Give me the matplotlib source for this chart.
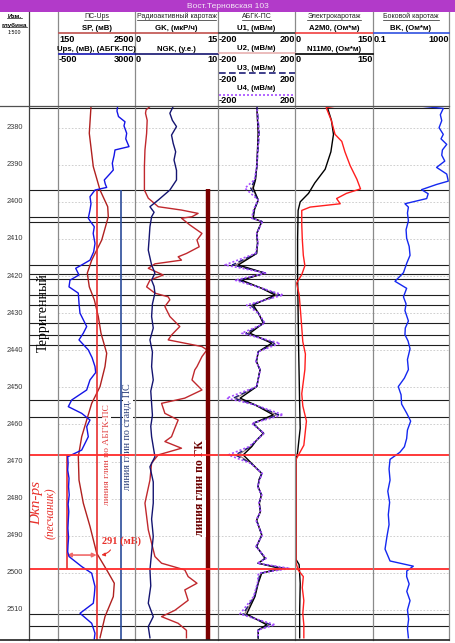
import numpy as np
import matplotlib.pyplot as plt
from matplotlib.lines import Line2D

depth_ticks = [2380, 2390, 2400, 2410, 2420, 2430, 2440, 2450, 2460, 2470, 2480, 2490, 2500, 2510]

# ПС track
sp_depth = [2374.3, 2381.5, 2390.5, 2396.8, 2401.3, 2404.0, 2410.3, 2415.7, 2419.2, 2422.9,
            2426.4, 2430.9, 2435.4, 2440.8, 2444.4, 2449.8, 2454.3, 2458.8, 2463.3, 2468.7,
            2475.0, 2481.2, 2487.5, 2494.7, 2499.2, 2502.8, 2506.4, 2511.8, 2517.5]
sp_val = [1157, 1105, 1227, 1432, 1667, 1685, 1484, 1179, 1044, 1105,
          1258, 1380, 1462, 1636, 1584, 1432, 1179, 1026, 873, 770,
          791, 922, 1127, 1331, 1636, 1868, 1838, 1584, 1432]

ups_depth = [2374.2, 2375.5, 2377.0, 2378.4, 2379.5, 2381.5, 2383.0, 2385.1, 2386.0, 2387.5,
             2389.6, 2391.4, 2392.5, 2394.1, 2395.2, 2396.1, 2396.8, 2398.6, 2400.5, 2402.2,
             2404.4, 2405.5, 2406.7, 2408.5, 2411.2, 2413.5, 2415.7, 2417.0, 2417.9, 2419.7,
             2421.1, 2422.9, 2424.6, 2427.3, 2430.0, 2433.6, 2435.4, 2437.2, 2439.9, 2442.0,
             2444.4, 2446.0, 2448.0, 2450.7, 2453.4, 2455.2, 2457.0, 2458.8, 2460.6, 2463.3,
             2466.9, 2468.7, 2470.5, 2472.3, 2474.5, 2476.8, 2479.0, 2481.5, 2483.5, 2485.8,
             2488.0, 2490.5, 2492.5, 2494.3, 2495.6, 2498.3, 2500.1, 2503.7, 2506.0, 2508.2,
             2510.9, 2513.6, 2516.3, 2517.8]
ups_val = [2213, 2180, 2250, 2545, 2500, 2622, 2580, 2727, 2091, 2050,
           1968, 2014, 1850, 1604, 1650, 1713, 1182, 954, 1000, 954,
           877, 1000, 1150, 1100, 1182, 1120, 954, 577, 304, 454,
           45, 0, 423, 454, 500, 804, 650, 454, 877, 1050,
           1182, 1213, 954, 804, 123, -32, 577, 954, 804, 877,
           577, -59, -40, -59, 0, -20, 10, -40, -10, -32,
           -50, -20, -45, -59, 0, 577, 1032, 1182, 1150, 1104,
           500, 1032, 1182, 1150]

# Радиоактивный каротаж
gk_depth = [2374.3, 2375.2, 2376.1, 2378.0, 2381.5, 2386.0, 2390.5, 2396.8, 2399.0, 2401.3,
            2402.2, 2403.1, 2404.0, 2404.4, 2406.2, 2408.5, 2410.3, 2412.1, 2413.9, 2414.8,
            2415.7, 2416.7, 2417.9, 2419.7, 2421.1, 2422.9, 2424.6, 2425.6, 2426.4, 2428.2,
            2430.9, 2433.6, 2434.5, 2435.9, 2437.2, 2439.0, 2439.9, 2441.7, 2444.4, 2445.3,
            2448.0, 2450.7, 2452.9, 2454.3, 2457.0, 2458.8, 2461.0, 2463.3, 2464.6, 2466.4,
            2468.2, 2470.4, 2475.0, 2481.2, 2488.4, 2495.6, 2497.4, 2499.2, 2501.0, 2502.8,
            2504.6, 2507.4, 2510.1, 2511.8, 2513.6, 2515.5, 2517.5]
gk_val = [2.7, 2.0, 1.9, 2.2, 2.1, 1.8, 1.7, 1.7, 2.4, 4.2,
          8.4, 11.4, 10.3, 8.4, 9.9, 12.1, 11.2, 11.6, 9.3, 7.8,
          8.4, 3.6, 2.4, 5.1, 2.7, 2.1, 3.6, 6.0, 6.3, 5.4,
          6.3, 8.1, 7.5, 6.6, 6.0, 12.1, 13.0, 12.1, 11.2, 10.8,
          10.3, 12.1, 9.0, 4.8, 5.4, 7.8, 7.2, 6.6, 5.4, 8.4,
          4.2, 3.0, 2.7, 1.8, 2.4, 3.6, 4.8, 9.0, 9.6, 11.2,
          9.0, 9.6, 7.2, 4.8, 7.8, 9.3, 9.3]

ngk_depth = [2374.3, 2376.1, 2378.0, 2379.7, 2382.0, 2384.2, 2386.5, 2388.7, 2391.5, 2394.1,
             2396.8, 2399.5, 2401.3, 2402.8, 2404.0, 2406.7, 2410.0, 2413.0, 2417.0, 2419.2,
             2421.1, 2422.8, 2424.6, 2427.5, 2430.9, 2434.0, 2437.2, 2440.5, 2444.4, 2448.0,
             2451.0, 2454.3, 2457.5, 2460.5, 2463.3, 2466.0, 2468.7, 2471.4, 2475.5, 2481.2,
             2485.5, 2490.2, 2494.5, 2499.2, 2503.5, 2508.2, 2511.8, 2514.5, 2517.5]
ngk_val = [4.6, 4.2, 4.5, 5.0, 4.4, 4.6, 4.9, 4.7, 5.0, 5.0,
           4.2, 2.8, 1.8, 2.3, 2.0, 1.8, 1.7, 1.6, 2.0, 2.4,
           2.0, 2.3, 2.4, 2.1, 2.0, 2.2, 1.8, 2.1, 2.0, 2.2,
           1.9, 2.0, 2.1, 1.9, 2.0, 2.2, 2.4, 1.8, 2.2, 2.2,
           2.0, 2.2, 2.0, 1.8, 1.9, 1.6, 2.2, 1.6, 1.8]

# АБГК-ПС
u_depth = [2374.0, 2381.5, 2390.5, 2394.0, 2396.3, 2399.5, 2402.0, 2404.4, 2405.3, 2408.5,
           2411.0, 2413.9, 2417.0, 2419.2, 2421.1, 2423.3, 2425.1, 2427.8, 2430.0, 2432.7,
           2435.4, 2438.1, 2440.4, 2443.0, 2445.3, 2449.8, 2452.9, 2454.7, 2457.4, 2459.7,
           2462.4, 2464.2, 2466.0, 2468.2, 2470.5, 2473.2, 2475.0, 2476.8, 2479.0, 2481.2,
           2483.5, 2485.8, 2489.8, 2492.9, 2496.1, 2497.4, 2498.8, 2500.1, 2502.8, 2506.4,
           2511.1, 2514.0, 2515.4, 2517.6]
u1_val = [1, 9, 1, -5, -17, 9, -10, -17, 27, 1,
          5, 1, -95, 44, -77, 27, 96, -17, 10, 35,
          -34, 79, 9, 0, 18, 1, -85, -8, 87, -17,
          35, 1, -25, -69, -25, 27, 12, 9, 25, 15,
          20, 1, 27, 1, 44, 9, 122, 27, 9, -8,
          -51, 53, 9, 9]
u2_val = [2, 8, 3, -6, -22, 10, -12, -20, 28, 2,
          6, 0, -110, 46, -88, 28, 110, -25, 10, 38,
          -45, 95, 10, -1, 18, 2, -110, -9, 105, -20,
          36, 2, -30, -95, -28, 28, 13, 8, 26, 14,
          21, 0, 28, 0, 46, 8, 140, 22, 8, -10,
          -62, 68, 9, 9]
u3_val = [3, 14, 2, -8, -30, 9, -12, -22, 29, 1,
          7, -2, -125, 47, -95, 29, 120, -30, 10, 40,
          -55, 100, 9, -2, 19, 1, -120, -9, 115, -21,
          38, 1, -33, -110, -28, 29, 14, 7, 27, 13,
          21, -1, 29, -1, 47, 7, 150, 18, 7, -12,
          -70, 75, 9, 9]
u4_val = [1, 12, 1, -10, -60, 9, -15, -25, 30, 1,
          8, -5, -164, 50, -112, 30, 139, -51, 10, 44,
          -77, 122, 9, -3, 20, 1, -155, -10, 139, -25,
          40, 1, -40, -146, -30, 30, 15, 5, 28, 12,
          22, -3, 30, -3, 50, 5, 174, 10, 5, -15,
          -86, 96, 9, 9]

# Электрокаротаж
a2m0_depth = [2373.9, 2374.6, 2378.1, 2381.8, 2383.7, 2386.5, 2390.2, 2393.9, 2396.5, 2397.7,
              2399.1, 2400.5, 2401.4, 2402.3, 2406.1, 2410.0, 2414.4, 2417.2, 2419.6, 2421.9,
              2425.0, 2428.4, 2432.0, 2437.7, 2441.0, 2445.2, 2451.7, 2455.0, 2459.1, 2465.6,
              2468.4, 2469.4, 2480.0, 2490.0, 2497.3, 2499.2, 2501.0, 2504.0, 2507.5, 2511.0,
              2514.0, 2517.5]
a2m0_val = [90, 60, 70, 77, 90, 96, 106, 119, 126, 99,
            80, 87, 29, 13, 13, 14, 16, 19, 13, 3,
            8, 10, 12, 15, 20, 19, 13, 15, 22, 17,
            6, 2, 2, 2, 2, 6, 16, 14, 17, 15,
            17, 17]
n11m0_depth = [2374.4, 2378.0, 2381.8, 2386.5, 2391.2, 2394.9, 2397.7, 2400.0, 2402.3, 2410.0,
               2419.1, 2430.0, 2440.0, 2447.0, 2455.0, 2461.0, 2467.5, 2469.4, 2480.0, 2496.4,
               2497.8, 2502.9, 2510.0, 2517.5]
n11m0_val = [62, 70, 74, 69, 58, 38, 26, 10, 6, 5,
             5, 6, 7, 8, 9, 10, 5, 2, 2, 2,
             8, 10, 9, 9]

# Боковой каротаж
bk_depth = [2374.2, 2374.8, 2376.5, 2378.1, 2380.0, 2381.8, 2383.0, 2384.5, 2386.0, 2387.4,
            2389.0, 2390.7, 2392.5, 2394.4, 2395.3, 2396.7, 2397.8, 2399.1, 2400.5, 2401.4,
            2403.0, 2405.1, 2407.5, 2409.8, 2412.0, 2414.4, 2416.5, 2419.1, 2421.4, 2423.3,
            2425.6, 2427.5, 2429.3, 2432.1, 2434.0, 2435.8, 2437.5, 2439.6, 2442.5, 2445.2,
            2447.5, 2449.8, 2452.0, 2454.5, 2457.0, 2459.1, 2461.5, 2463.8, 2466.0, 2467.5,
            2469.4, 2472.0, 2475.0, 2478.0, 2481.0, 2484.3, 2487.0, 2490.0, 2493.6, 2496.8,
            2498.2, 2499.5, 2501.0, 2503.0, 2505.0, 2507.5, 2510.0, 2512.5, 2515.0, 2517.5]
bk_val = [36, 500, 350, 415, 300, 500, 380, 760, 450, 415,
          600, 222, 760, 920, 222, 36, 80, 67, 4.8, 7.3,
          6.5, 7.3, 5.5, 5.9, 8.0, 8.9, 6.0, 4.0, 1.44, 5.9,
          4.0, 5.5, 4.8, 7.3, 5.0, 4.8, 7.0, 8.9, 6.5, 7.3,
          4.5, 2.14, 3.0, 3.2, 6.0, 9.6, 6.5, 5.9, 4.5, 2.6,
          0.79, 0.7, 0.79, 0.6, 0.75, 0.64, 0.7, 0.55, 0.43, 0.79,
          13.2, 6.0, 5.9, 8.0, 6.0, 8.9, 6.5, 7.5, 6.5, 7.3]

# boundaries
black_depths = [2374.8, 2396.9, 2404.2, 2405.4, 2417.1, 2419.4, 2420.9, 2425.0, 2427.9, 2432.6,
                2435.9, 2438.7, 2453.4, 2458.0, 2511.2, 2514.4]
red_depths = [2468.2, 2498.9]

# clay lines
clay_abgk_sp = 1350
clay_std_sp = 2063
clay_gk = 13.25
clay_top = 2396.8
sand_sp = 415
delta_from, delta_to, delta_depth = 425, 1330, 2495.2

# ---------------- layout ----------------
W, H = 455, 643
TOP, BOT = 2374.15, 2518.1
cols = [0, 29, 58, 135, 218, 295, 373, 449]
Y0, Y1 = 106, 640
SANS = 'Liberation Sans'
SERIF = 'Liberation Serif'

fig = plt.figure(figsize=(W / 100, H / 100), dpi=100)


def px_axes(x0, x1, grid=True):
    ax = fig.add_axes([x0 / W, 1 - Y1 / H, (x1 - x0) / W, (Y1 - Y0) / H])
    ax.set_facecolor('none')
    ax.set_ylim(BOT, TOP)
    for s in ax.spines.values():
        s.set_visible(False)
    ax.set_xticks([])
    if grid:
        ax.set_yticks(depth_ticks)
        ax.grid(axis='y', color='#c8c8c8', lw=0.6, ls=(0, (2, 2)))
        ax.tick_params(length=0, labelleft=False)
    else:
        ax.set_yticks([])
    return ax


# background: boundaries
bg = px_axes(29, 449, grid=False)
bg.set_xlim(0, 1)
bg.hlines(black_depths, 0, 1, color='#1e1e1e', lw=0.8)

# depth column
axd = px_axes(0, 29, grid=False)
axd.set_xlim(0, 1)
for d in depth_ticks:
    axd.text(0.52, d, str(d), ha='center', va='center', fontsize=5.3, color='#3a3a3a', family=SANS)

# column 2 (lithology notes)
axl = px_axes(29, 58, grid=False)
axl.set_xlim(0, 1)
axl.text(0.5, 2429.7, 'Терригенный', rotation=90, ha='center', va='center',
         fontsize=10, family=SERIF, color='black')
axl.text(0.28, 2481.2, 'Dkn-ps', rotation=90, ha='center', va='center',
         fontsize=11, family=SERIF, style='italic', color='#e8302a')
axl.text(0.74, 2484.0, '(песчаник)', rotation=90, ha='center', va='center',
         fontsize=8.3, family=SERIF, style='italic', color='#e8302a')

# ПС track
ax_sp = px_axes(58, 135)
ax_sp.set_xlim(150, 2500)
ax_ups = px_axes(58, 135, grid=False)
ax_ups.set_xlim(-500, 3000)
ax_ups.plot(ups_val, ups_depth, color='#1414e6', lw=1.0)
ax_sp.plot(sp_val, sp_depth, color='#b0201f', lw=1.0)
ax_sp.vlines(clay_abgk_sp, clay_top, BOT, color='#e83030', lw=1.2)
ax_sp.vlines(clay_std_sp, clay_top, BOT, color='#2b4c9a', lw=1.2)
ax_sp.vlines(sand_sp, red_depths[0], red_depths[1], color='#e83030', lw=1.2)
ax_sp.annotate('', xy=(delta_from, delta_depth), xytext=(delta_to, delta_depth),
               arrowprops=dict(arrowstyle='<|-|>', color='#f06a6a', lw=1.2,
                               mutation_scale=6, shrinkA=0, shrinkB=0))
ax_sp.text(2094, 2491.6, '291 (мВ)', ha='center', va='center', fontsize=7.5,
           weight='bold', family=SERIF, color='#e8302a')
ax_sp.annotate('', xy=(clay_abgk_sp + 40, delta_depth), xytext=(1800, 2493.2),
               arrowprops=dict(arrowstyle='-|>', color='#e8302a', lw=0.8,
                               mutation_scale=5, connectionstyle='arc3,rad=-0.3'))
ax_sp.text(1636, 2468.0, 'линия глин по АБГК-ПС', rotation=90, ha='center', va='center',
           fontsize=6.8, family=SERIF, color='#e04040',
           bbox=dict(facecolor='white', edgecolor='none', pad=0.3))
ax_sp.text(2277, 2463.2, 'линия глин по станд. ПС', rotation=90, ha='center', va='center',
           fontsize=7.3, family=SERIF, color='#2b3f7a',
           bbox=dict(facecolor='white', edgecolor='none', pad=0.3))

# Радиоактивный каротаж
ax_gk = px_axes(135, 218)
ax_gk.set_xlim(0, 15)
ax_ngk = px_axes(135, 218, grid=False)
ax_ngk.set_xlim(0, 10)
ax_ngk.plot(ngk_val, ngk_depth, color='#141470', lw=1.0)
ax_gk.plot(gk_val, gk_depth, color='#c0282d', lw=1.0)
ax_gk.vlines(clay_gk, clay_top - 0.4, BOT, color='#7a0000', lw=3.2)
ax_gk.text(11.75, 2477.2, 'линия глин по ГК', rotation=90, ha='center', va='center',
           fontsize=8.5, weight='bold', family=SERIF, color='#6a0000',
           bbox=dict(facecolor='white', edgecolor='none', pad=0.3))

# АБГК-ПС
ax_u = px_axes(218, 295)
ax_u.set_xlim(-200, 200)
ax_u.plot(u2_val, u_depth, color='#9c7b7b', lw=0.8)
ax_u.plot(u1_val, u_depth, color='black', lw=1.0)
ax_u.plot(u3_val, u_depth, color='#1e1e78', lw=1.0, ls=(0, (4, 2)))
ax_u.plot(u4_val, u_depth, color='#a64dff', lw=1.2, ls=(0, (1.2, 1.2)))

# Электрокаротаж
ax_e = px_axes(295, 373)
ax_e.set_xlim(0, 150)
ax_e.plot(n11m0_val, n11m0_depth, color='black', lw=1.0)
ax_e.plot(a2m0_val, a2m0_depth, color='#ff1e1e', lw=1.0)

# Боковой каротаж
ax_bk = px_axes(373, 449)
ax_bk.set_xscale('log')
ax_bk.set_xlim(0.1, 1000)
ax_bk.set_xticks([])
ax_bk.minorticks_off()
ax_bk.plot(bk_val, bk_depth, color='#1428f0', lw=1.0)

# red marker lines on top
top_ax = px_axes(29, 449, grid=False)
top_ax.set_xlim(0, 1)
top_ax.hlines(red_depths, 0, 1, color='#ff2a2a', lw=1.3)

# ---------------- header and frame ----------------
hdr = fig.add_axes([0, 0, 1, 1])
hdr.set_xlim(0, W)
hdr.set_ylim(H, 0)
hdr.axis('off')
hdr.add_patch(plt.Rectangle((0, 0), W, 12, color='#b23ac9', lw=0))
hdr.text(W / 2, 6.3, 'Вост.Терновская 103', ha='center', va='center', color='#f4e8f6',
         fontsize=6.0, family=SANS)
for i, x in enumerate(cols):
    if i == 0:
        continue
    hdr.plot([x, x], [12, Y1], color='#404040' if x == 29 else '#8a8a8a', lw=0.9)
hdr.plot([0, 449], [Y0, Y0], color='#505050', lw=0.9)
hdr.plot([0, 449], [Y1, Y1], color='#202020', lw=1.2)

underlined = []
t = hdr.text(14.5, 16, 'Изм.', ha='center', va='center', fontsize=4.6, weight='bold', family=SANS)
underlined.append(t)
t = hdr.text(14.5, 25, 'глубина', ha='center', va='center', fontsize=4.6, weight='bold', family=SANS)
underlined.append(t)
hdr.text(14.5, 32.5, '1:500', ha='center', va='center', fontsize=3.8, family=SANS)

track_titles = ['ПС-Ups', 'Радиоактивный каротаж', 'АБГК-ПС', 'Электрокаротаж', 'Боковой каротаж']
for k, title in enumerate(track_titles):
    x0, x1 = cols[k + 2], cols[k + 3]
    t = hdr.text((x0 + x1) / 2, 16.5, title, ha='center', va='center', fontsize=5.0,
                 family=SANS, color='#202020')
    underlined.append(t)


def curve_key(x0, x1, y_name, name, y_line, color, ls, y_num, lo, hi):
    hdr.text((x0 + x1) / 2, y_name, name, ha='center', va='center', fontsize=5.6,
             weight='bold', family=SANS)
    hdr.plot([x0 + 0.5, x1 - 0.5], [y_line, y_line], color=color, ls=ls, lw=1.2)
    hdr.text(x0 + 1, y_num, lo, ha='left', va='center', fontsize=6.6, weight='bold', family=SANS)
    hdr.text(x1 - 0.5, y_num, hi, ha='right', va='center', fontsize=6.6, weight='bold', family=SANS)


curve_key(58, 135, 28.5, 'SP, (мВ)', 33, '#c0504d', '-', 40, '150', '2500')
curve_key(58, 135, 49.5, 'Ups, (мВ), (АБГК-ПС)', 54, '#1414b4', '-', 60, '-500', '3000')
curve_key(135, 218, 28.5, 'GK, (мкР/ч)', 33, '#c0504d', '-', 40, '0', '15')
curve_key(135, 218, 49.5, 'NGK, (у.е.)', 54, '#141470', '-', 60, '0', '10')
curve_key(218, 295, 28.5, 'U1, (мВ/м)', 33, '#303030', '-', 39.5, '-200', '200')
curve_key(218, 295, 48.8, 'U2, (мВ/м)', 53, '#e8b0b0', '-', 59.5, '-200', '200')
curve_key(218, 295, 68.5, 'U3, (мВ/м)', 73.3, '#1e1e78', (0, (4, 2)), 79.5, '-200', '200')
curve_key(218, 295, 89, 'U4, (мВ/м)', 94.8, '#a64dff', (0, (1.2, 1.2)), 100.3, '-200', '200')
curve_key(295, 373, 28.5, 'A2M0, (Ом*м)', 33, '#f04040', '-', 40, '0', '150')
curve_key(295, 373, 49.5, 'N11M0, (Ом*м)', 54, 'black', '-', 60, '0', '150')
curve_key(373, 449, 28.5, 'BK, (Ом*м)', 33, '#3050e0', '-', 40, '0.1', '1000')

# underline titles
fig.canvas.draw()
for t in underlined:
    bb = t.get_window_extent()
    y = (bb.y0 + 0.3) / H
    fig.add_artist(Line2D([bb.x0 / W, bb.x1 / W], [y, y], transform=fig.transFigure,
                          color='#202020', lw=0.5))

fig.savefig('out.png', dpi=100)
